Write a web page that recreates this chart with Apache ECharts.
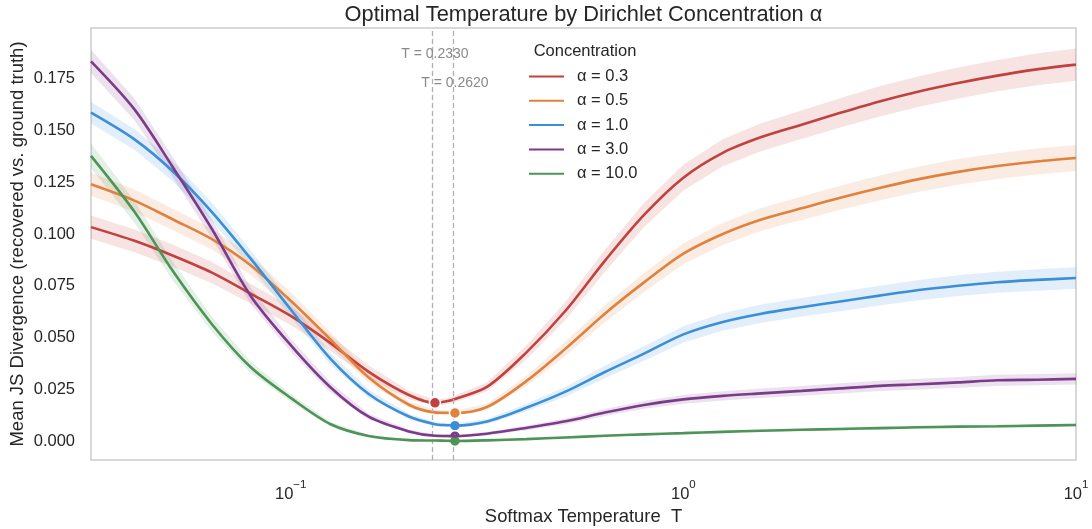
<!DOCTYPE html>
<html><head><meta charset="utf-8">
<script src="https://cdn.jsdelivr.net/npm/echarts@6/dist/echarts.min.js"></script>
<style>html,body{margin:0;padding:0;background:#fff}#c{width:1092px;height:529px}</style>
</head><body><div id="c"></div>
<script>
// Softmax temperature grid
const temperatures = [0.031, 0.04, 0.05, 0.063, 0.079, 0.1, 0.126, 0.158, 0.2, 0.233, 0.251, 0.262, 0.316, 0.398, 0.501, 0.631, 0.794, 1.0, 1.26, 1.58, 2.0, 2.51, 3.16, 3.98, 5.01, 6.31, 7.94, 10];
// Mean JS divergence per concentration
const alpha03 = [0.1033,0.0967,0.0896,0.0813,0.0712,0.0604,0.0474,0.0334,0.0222,0.0184,0.0193,0.0203,0.0261,0.0427,0.0629,0.0870,0.1092,0.1272,0.1392,0.1468,0.1528,0.1585,0.1640,0.1688,0.1729,0.1765,0.1795,0.1818];
const alpha05 = [0.1240,0.1161,0.1071,0.0975,0.0849,0.0677,0.0492,0.0306,0.0175,0.0138,0.0136,0.0135,0.0164,0.0289,0.0446,0.0615,0.0766,0.0905,0.1000,0.1070,0.1124,0.1175,0.1222,0.1265,0.1300,0.1328,0.1350,0.1367];
const alpha10 = [0.1586,0.1457,0.1304,0.1106,0.0882,0.0635,0.0399,0.0227,0.0118,0.0081,0.0076,0.0074,0.0094,0.0160,0.0238,0.0333,0.0422,0.0515,0.0575,0.0615,0.0646,0.0674,0.0702,0.0729,0.0750,0.0767,0.0778,0.0787];
const alpha30 = [0.1834,0.1602,0.1325,0.1024,0.0702,0.0463,0.0261,0.0117,0.0046,0.0025,0.0024,0.0023,0.0035,0.0063,0.0095,0.0137,0.0174,0.0201,0.0218,0.0230,0.0242,0.0254,0.0266,0.0274,0.0283,0.0293,0.0296,0.0300];
const alpha100 = [0.1377,0.1107,0.0823,0.0564,0.0357,0.0208,0.0082,0.0024,0.0004,0.0002,0.0001,0.0000,0.0003,0.0009,0.0017,0.0025,0.0032,0.0038,0.0044,0.0049,0.0054,0.0058,0.0062,0.0066,0.0069,0.0071,0.0074,0.0077];
// Half-widths of the shaded bands
const ci03 = [0.0056,0.0055,0.0053,0.0051,0.0048,0.0044,0.0038,0.0030,0.0020,0.0015,0.0015,0.0016,0.0022,0.0034,0.0044,0.0052,0.0058,0.0062,0.0065,0.0067,0.0069,0.0071,0.0073,0.0074,0.0075,0.0076,0.0077,0.0078];
const ci05 = [0.0056,0.0054,0.0052,0.0050,0.0046,0.0041,0.0034,0.0025,0.0016,0.0013,0.0012,0.0012,0.0015,0.0025,0.0034,0.0041,0.0046,0.0050,0.0053,0.0055,0.0057,0.0058,0.0060,0.0061,0.0062,0.0062,0.0063,0.0063];
const ci10 = [0.0052,0.0050,0.0048,0.0045,0.0041,0.0036,0.0028,0.0020,0.0013,0.0010,0.0010,0.0010,0.0012,0.0018,0.0024,0.0030,0.0035,0.0039,0.0042,0.0044,0.0045,0.0047,0.0048,0.0049,0.0050,0.0051,0.0052,0.0052];
const ci30 = [0.0056,0.0053,0.0049,0.0045,0.0039,0.0032,0.0024,0.0015,0.0009,0.0007,0.0007,0.0007,0.0008,0.0011,0.0014,0.0017,0.0019,0.0021,0.0022,0.0023,0.0024,0.0025,0.0025,0.0026,0.0026,0.0027,0.0027,0.0027];
const ci100 = [0.0060,0.0053,0.0045,0.0036,0.0027,0.0019,0.0011,0.0006,0.0003,0.0002,0.0002,0.0002,0.0002,0.0003,0.0004,0.0005,0.0005,0.0006,0.0006,0.0006,0.0006,0.0007,0.0007,0.0007,0.0007,0.0007,0.0007,0.0007];

const seriesNames = ['α = 0.3', 'α = 0.5', 'α = 1.0', 'α = 3.0', 'α = 10.0'];
const seriesColors = ['#c0413f', '#e0823d', '#3b8fd6', '#7b3b8a', '#4d9456'];
const seriesValues = [alpha03, alpha05, alpha10, alpha30, alpha100];
const seriesCI = [ci03, ci05, ci10, ci30, ci100];
const optimalT = [0.2330, 0.2620];
const xTicks = [0.1, 1, 10];
const yTicks = [0, 0.025, 0.05, 0.075, 0.1, 0.125, 0.15, 0.175];

const TXT = '#262626';
const FONT = '"Liberation Sans", Arial, sans-serif';

const series = [];
// dashed optimum lines + labels
series.push({
  type: 'line', name: 'optimum', data: [], z: 1, silent: true,
  markLine: {
    silent: true, symbol: 'none', animation: false,
    lineStyle: { color: '#b0b0b0', width: 1.3, type: [5, 3] },
    label: { show: false },
    data: optimalT.map(t => ({ xAxis: t }))
  },
  markPoint: {
    silent: true, animation: false, symbol: 'circle', symbolSize: 1,
    itemStyle: { color: 'rgba(0,0,0,0)' },
    label: { show: true, position: 'inside', color: '#8a8a8a', fontSize: 14, fontFamily: FONT },
    data: optimalT.map((t, i) => ({ coord: [t, i === 0 ? 0.1871 : 0.1731], label: { formatter: 'T = ' + t.toFixed(4) } }))
  }
});
seriesValues.forEach((vals, k) => {
  const ci = seriesCI[k];
  const col = seriesColors[k];
  series.push({
    type: 'custom', name: seriesNames[k] + ' band', silent: true, z: 2, clip: true,
    data: [[temperatures[0], vals[0]]],
    encode: { x: 0, y: 1 },
    renderItem: (params, api) => {
      const pts = [];
      for (let i = 0; i < temperatures.length; i++) pts.push(api.coord([temperatures[i], vals[i] + ci[i]]));
      for (let i = temperatures.length - 1; i >= 0; i--) pts.push(api.coord([temperatures[i], vals[i] - ci[i]]));
      return { type: 'polygon', shape: { points: pts, smooth: 0 }, style: { fill: col, opacity: 0.15, stroke: null } };
    }
  });
});
seriesValues.forEach((vals, k) => {
  const col = seriesColors[k];
  let m = 0;
  vals.forEach((v, i) => { if (v < vals[m]) m = i; });
  series.push({
    type: 'line', name: seriesNames[k], z: 3 + k,
    data: temperatures.map((t, i) => [t, vals[i]]),
    showSymbol: false, symbol: 'none', smooth: 0.3,
    lineStyle: { color: col, width: 2.6 }, itemStyle: { color: col },
    markPoint: {
      silent: true, animation: false, symbol: 'circle', symbolSize: 11,
      itemStyle: { color: col, borderColor: '#fff', borderWidth: 1.5 },
      label: { show: false },
      data: [{ coord: [temperatures[m], vals[m]] }]
    }
  });
});

const chart = echarts.init(document.getElementById('c'), null, { renderer: 'canvas' });
chart.setOption({
  animation: false,
  backgroundColor: '#ffffff',
  textStyle: { fontFamily: FONT },
  grid: { left: 91, right: 16, top: 28, bottom: 69, containLabel: false, outerBoundsMode: 'none', show: true, borderColor: '#cccccc', borderWidth: 1.5 },
  graphic: [
    { type: 'text', x: 583.5, y: 15, style: { text: 'Optimal Temperature by Dirichlet Concentration α', fill: TXT, font: '21.8px ' + FONT, textAlign: 'center', textVerticalAlign: 'middle' } },
    { type: 'text', x: 585, y: 51, style: { text: 'Concentration', fill: TXT, font: '16.5px ' + FONT, textAlign: 'center', textVerticalAlign: 'middle' } }
  ],
  legend: {
    data: seriesNames, orient: 'vertical', left: 528, top: 68, padding: 0,
    itemWidth: 35, itemHeight: 14, itemGap: 7.3,
    itemStyle: { opacity: 0 },
    textStyle: { fontSize: 16.5, color: TXT, fontFamily: FONT, padding: [0, 0, 0, 8] }
  },
  xAxis: {
    type: 'log', logBase: 10, min: 0.031, max: 10,
    axisLine: { show: false }, axisTick: { show: false }, splitLine: { show: false }, minorTick: { show: false },
    axisLabel: {
      customValues: xTicks, margin: 19,
      formatter: v => { const e = Math.round(Math.log10(v)); return '{b|10}{s|' + (e < 0 ? '−' : '') + Math.abs(e) + '}'; },
      rich: {
        b: { fontSize: 16.5, color: TXT, fontFamily: FONT, verticalAlign: 'bottom', lineHeight: 24 },
        s: { fontSize: 11.5, color: TXT, fontFamily: FONT, verticalAlign: 'top', lineHeight: 13 }
      }
    },
    name: 'Softmax Temperature  T', nameLocation: 'middle', nameGap: 48, nameMoveOverlap: false,
    nameTextStyle: { fontSize: 18.4, color: TXT, fontFamily: FONT }
  },
  yAxis: {
    type: 'value', min: -0.0092, max: 0.1995,
    axisLine: { show: false }, axisTick: { show: false }, splitLine: { show: false },
    axisLabel: { customValues: yTicks, formatter: v => v.toFixed(3), fontSize: 16.5, color: TXT, fontFamily: FONT, margin: 16 },
    name: 'Mean JS Divergence (recovered vs. ground truth)', nameLocation: 'middle', nameGap: 64, nameMoveOverlap: false,
    nameTextStyle: { fontSize: 18.5, color: TXT, fontFamily: FONT }
  },
  series: series
});
</script></body></html>
